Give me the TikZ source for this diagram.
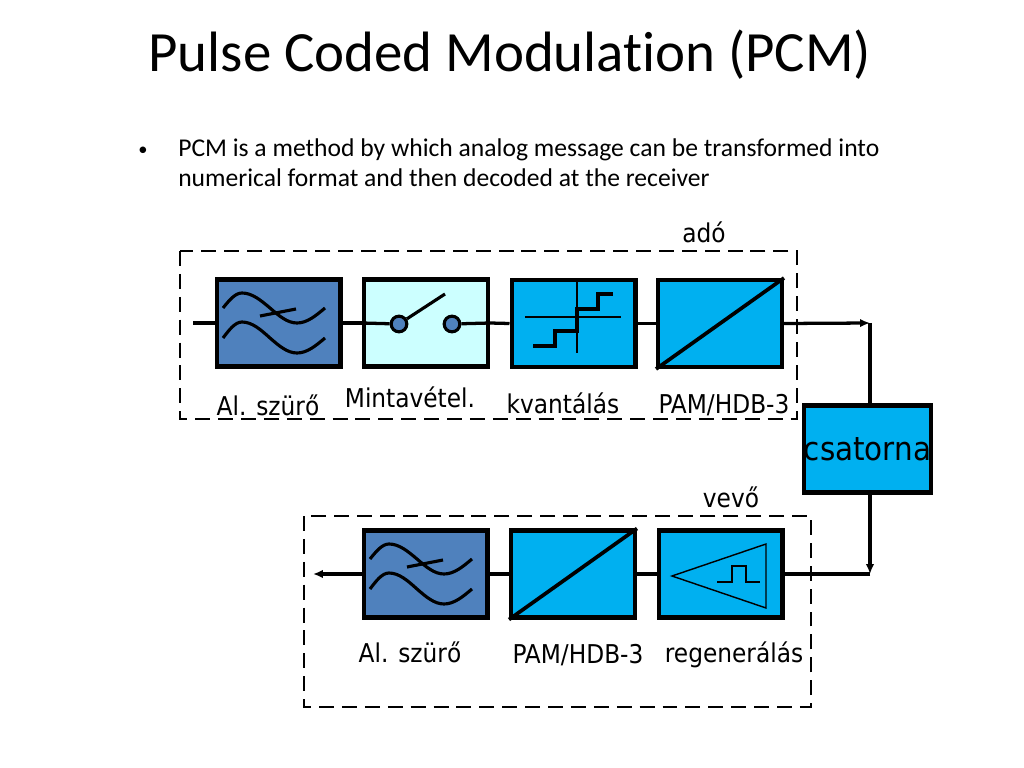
\documentclass[tikz,border=0pt]{standalone}
\usepackage{fontspec}
\setmainfont{Carlito}[Ligatures=NoCommon]
\newfontfamily\lblfont{DejaVu Sans Condensed}
\usetikzlibrary{arrows.meta}
\definecolor{filt}{HTML}{4F81BD}
\definecolor{samp}{HTML}{CCFFFF}
\definecolor{bblue}{HTML}{00B0F0}
\tikzset{
  blk/.style={draw=black, line width=3pt, minimum width=87pt, minimum height=61pt, inner sep=0pt},
  sig/.style={line width=2.3pt},
  icon/.style={line width=2.2pt},
  thin/.style={line width=1pt},
  frame/.style={line width=1.8pt, dash pattern=on 10.5pt off 5.6pt},
  lbl/.style={anchor=base, font=\lblfont\fontsize{18.2}{22}\selectfont},
  tip/.style={-{Latex[length=7pt,width=6pt]}},
  dot/.style={circle, draw=black, line width=2.2pt, fill=filt, minimum size=11pt, inner sep=0pt}
}
\begin{document}
\begin{tikzpicture}[x=0.703125pt,y=-0.703125pt]
\useasboundingbox (0,0) rectangle (1024,768);
% title and bullet
\node[anchor=base, font=\fontsize{40}{48}\selectfont] (title) at (510,72) {Pulse Coded Modulation (PCM)};
\node[anchor=base, font=\fontsize{13}{16}\selectfont] (bul) at (143,156) {\textbullet};
\node[anchor=base west, font=\fontsize{18}{22}\selectfont, inner sep=0pt] (t1) at (178,157) {PCM is a method by which analog message can be transformed into};
\node[anchor=base west, font=\fontsize{18}{22}\selectfont, inner sep=0pt] (t2) at (178,187) {numerical format and then decoded at the receiver};
% frames
\draw[frame] (180,251) rectangle (797,419);
\draw[frame] (304,516) rectangle (811,707);
\node[lbl] (ado) at (704,243) {adó};
\node[lbl] (vevo) at (731,507) {vevő};
% top row blocks
\node[blk, fill=filt] (f1) at (278.5,323) {};
\node[blk, fill=samp] (sw) at (426,323) {};
\node[blk, fill=bblue] (q) at (573.5,323.5) {};
\node[blk, fill=bblue] (p1) at (720,323.5) {};
% channel
\node[blk, fill=bblue, font=\lblfont\fontsize{23}{27}\selectfont] (ch) at (867.5,449) {csatorna};
% bottom row blocks
\node[blk, fill=filt] (f2) at (425.5,574) {};
\node[blk, fill=bblue] (p2) at (573,574) {};
\node[blk, fill=bblue] (rg) at (720.5,574) {};
% coordinates
\coordinate (in) at (193,323);
\coordinate (c1) at (870,323);
\coordinate (c2) at (870,574);
\coordinate (out) at (313,574);
% connectors
\draw[sig] (in) -- (f1.west);
\draw[sig] (f1.east) -- (sw.west);
\draw[sig] (sw.east) -- (q.west);
\draw[sig] (q.east) -- (p1.west);
\draw[sig,tip] (p1.east) -- (c1);
\draw[sig] (c1) -- (c1 |- ch.north);
\draw[sig,tip] (c2 |- ch.south) -- (c2);
\draw[sig] (c2) -- (rg.east);
\draw[sig] (rg.west) -- (p2.east);
\draw[sig] (p2.west) -- (f2.east);
\draw[sig,tip] (f2.west) -- (out);
% filter icons
\begin{scope}
\draw[icon] (223,308) sin (242,293) cos (270,308) sin (297,323) cos (325,308);
\draw[icon] (223,338) sin (242,322) cos (270,338) sin (297,353) cos (325,338);
\draw[icon] (260,316) -- (296,309);
\end{scope}
\begin{scope}[shift={(147,251)}]
\draw[icon] (223,308) sin (242,293) cos (270,308) sin (297,323) cos (325,308);
\draw[icon] (223,338) sin (242,322) cos (270,338) sin (297,353) cos (325,338);
\draw[icon] (260,316) -- (296,309);
\end{scope}
% switch icon
\node[dot] (d1) at (399,324) {};
\node[dot] (d2) at (452,324) {};
\coordinate (lv) at (445,294);
\draw[sig] (sw.west) -- (d1);
\draw[sig] (d2) -- (sw.east);
\draw[icon] (d1) -- (lv);
% quantizer icon
\draw[thin] (577,282) -- (577,353);
\draw[thin] (525,317) -- (621,317);
\draw[icon] (533,346) -- (555,346) -- (555,331) -- (577,331) -- (577,309) -- (598,309) -- (598,294) -- (613,294);
% PAM diagonals
\draw[line width=2.6pt] (p1.south west) -- (p1.north east);
\draw[line width=2.6pt] (p2.south west) -- (p2.north east);
% regenerator icon
\draw[thin] (672,576) -- (766,544) -- (766,608) -- cycle;
\draw[thin] (717,582) -- (732,582) -- (732,566) -- (746,566) -- (746,582) -- (760,582);
% labels
\node[lbl] (l1) at (268,415) {Al. szürő};
\node[lbl] (l2) at (410,407) {Mintavétel.};
\node[lbl] (l3) at (563,413) {kvantálás};
\node[lbl] (l4) at (724,413) {PAM/HDB-3};
\node[lbl] (l5) at (410,662) {Al. szürő};
\node[lbl] (l6) at (578,663) {PAM/HDB-3};
\node[lbl] (l7) at (734,662) {regenerálás};
\end{tikzpicture}
\end{document}
